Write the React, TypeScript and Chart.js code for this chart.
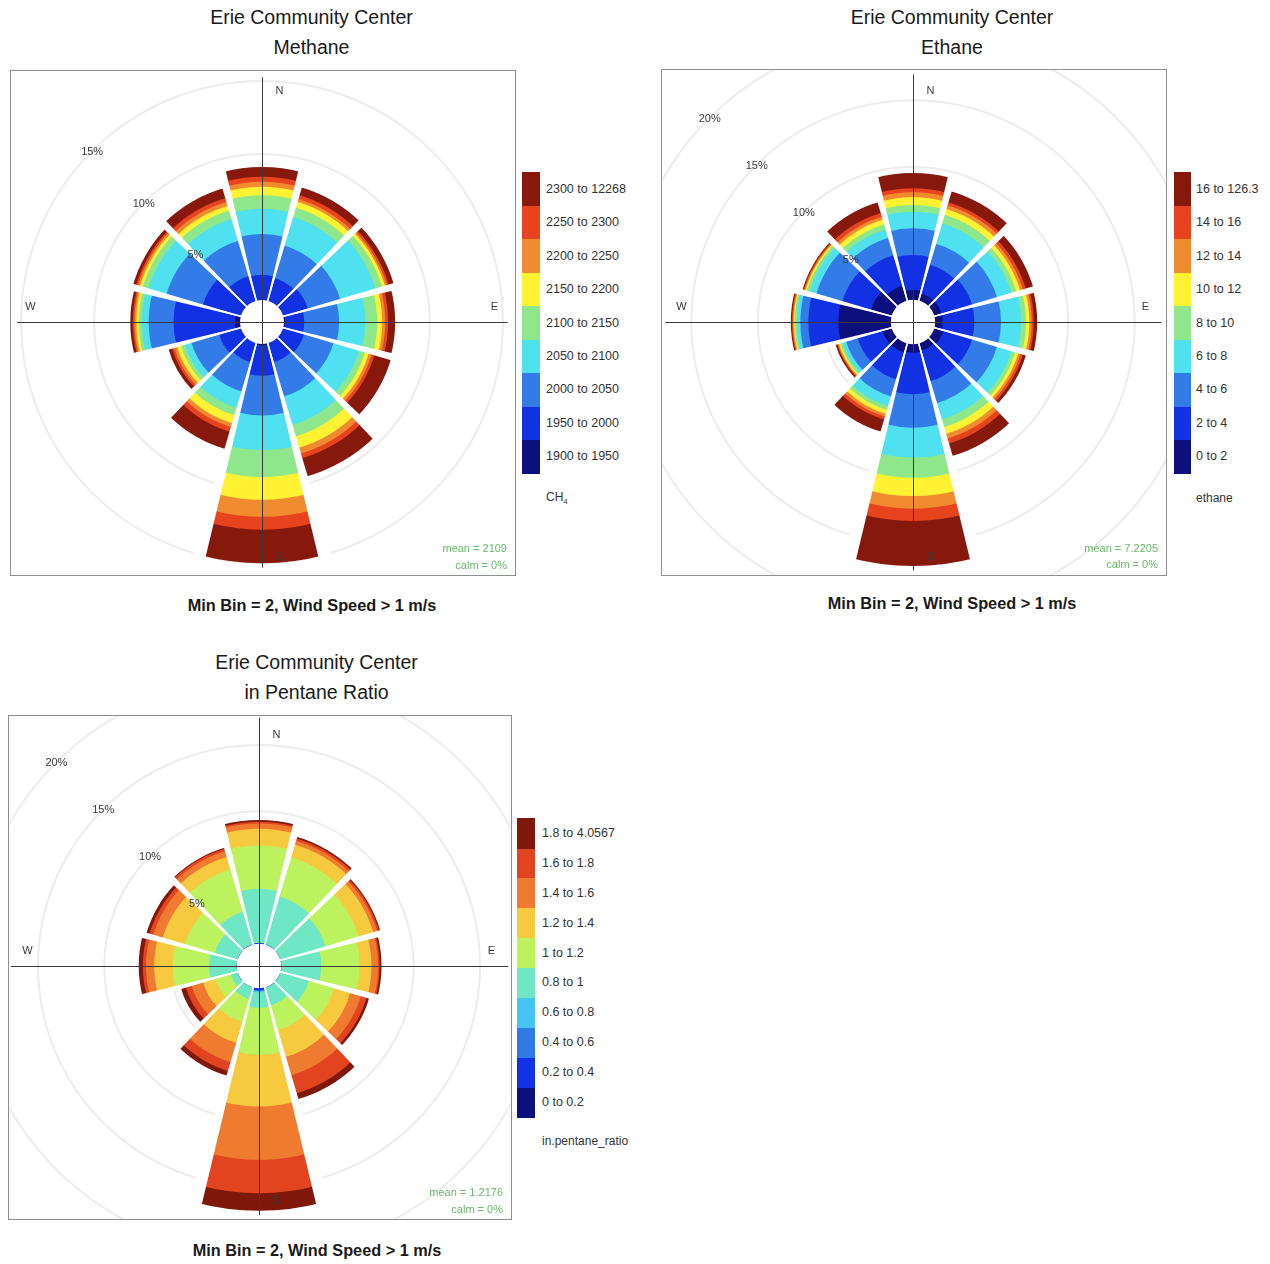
import React, { useEffect, useRef } from 'react';
import { Chart, registerables } from 'chart.js';

Chart.register(...registerables);

// ---------- shared ----------
const directions = ['N', 'NNE', 'ENE', 'E', 'ESE', 'SSE', 'S', 'SSW', 'WSW', 'W', 'WNW', 'NNW'];
const calmRing = [0, 0, 0, 0, 0, 0, 0, 0, 0, 0, 0, 0];

// ---------- Methane: frequency (%) per direction for each concentration bin ----------
const methane1900 = [0, 0, 0, 0.08, 0, 0, 0.1, 0, 0, 0.34, 0, 0];
const methane1950 = [1.73, 1.63, 1.77, 1.31, 1.5, 1.36, 2.08, 1.36, 1.56, 4.22, 2.72, 1.77];
const methane2000 = [2.79, 2.32, 2.31, 2.39, 2.11, 2.45, 2.72, 2.11, 1.98, 1.7, 2.59, 2.52];
const methane2050 = [1.74, 2.04, 2.52, 1.8, 1.83, 2.04, 2.38, 1.16, 0.47, 0.47, 1.29, 1.56];
const methane2100 = [0.92, 0.68, 0.47, 0.81, 0.41, 0.82, 1.84, 0.54, 0.28, 0.21, 0.41, 0.61];
const methane2150 = [0.58, 0.4, 0.21, 0.34, 0.27, 0.81, 1.56, 0.54, 0.27, 0.17, 0.2, 0.34];
const methane2200 = [0.34, 0.21, 0.13, 0.21, 0.21, 0.41, 1.16, 0.28, 0.2, 0.13, 0.14, 0.27];
const methane2250 = [0.34, 0.27, 0.14, 0.2, 0.2, 0.34, 0.88, 0.34, 0.17, 0.11, 0.13, 0.28];
const methane2300 = [0.68, 0.55, 0.34, 0.48, 1.16, 1.29, 2.3, 1.22, 0.24, 0.17, 0.21, 0.68];
const methaneLevels = ['1900 to 1950', '1950 to 2000', '2000 to 2050', '2050 to 2100', '2100 to 2150', '2150 to 2200', '2200 to 2250', '2250 to 2300', '2300 to 12268'];

// ---------- Ethane ----------
const ethane0 = [0.74, 0.56, 0.56, 0.56, 0.71, 0.56, 0.64, 0.71, 0.71, 3.95, 1.62, 1.17];
const ethane2 = [2.63, 2.26, 2.41, 2.39, 2.26, 2.41, 3.13, 2.11, 1.96, 2.25, 2.25, 2.4];
const ethane4 = [2.01, 1.65, 1.95, 2.0, 1.95, 1.73, 2.51, 1.35, 0.9, 0.6, 2.03, 1.35];
const ethane6 = [1.24, 1.58, 1.13, 1.51, 1.13, 1.28, 2.25, 0.75, 0.3, 0.27, 0.53, 0.68];
const ethane8 = [0.51, 0.68, 0.38, 0.37, 0.3, 0.6, 1.51, 0.31, 0.15, 0.15, 0.22, 0.38];
const ethane10 = [0.58, 0.45, 0.3, 0.25, 0.23, 0.53, 1.38, 0.3, 0.12, 0.07, 0.12, 0.37];
const ethane12 = [0.37, 0.3, 0.22, 0.18, 0.19, 0.37, 0.95, 0.22, 0.07, 0.08, 0.07, 0.23];
const ethane14 = [0.3, 0.23, 0.23, 0.15, 0.18, 0.38, 0.93, 0.23, 0.08, 0.07, 0.08, 0.3];
const ethane16 = [1.15, 0.86, 0.56, 0.26, 0.23, 0.97, 3.38, 0.94, 0.11, 0.08, 0.07, 0.83];
const ethaneLevels = ['0 to 2', '2 to 4', '4 to 6', '6 to 8', '8 to 10', '10 to 12', '12 to 14', '14 to 16', '16 to 126.3'];

// ---------- in-Pentane ratio ----------
const pentane00 = [0, 0, 0, 0, 0, 0, 0, 0, 0, 0, 0, 0];
const pentane02 = [0.05, 0.03, 0, 0, 0, 0, 0.15, 0, 0, 0, 0, 0.03];
const pentane04 = [0, 0, 0, 0, 0, 0, 0.05, 0, 0, 0, 0, 0];
const pentane06 = [0, 0, 0, 0, 0, 0.05, 0.1, 0, 0, 0, 0, 0];
const pentane08 = [4.1, 3.77, 3.55, 3.02, 2.26, 1.36, 1.18, 0.91, 0.53, 2.08, 1.81, 2.57];
const pentane10 = [3.27, 3.07, 2.61, 2.9, 1.97, 1.96, 3.55, 1.81, 1.21, 2.75, 2.34, 3.32];
const pentane12 = [1.26, 1.01, 1.16, 0.89, 1.28, 2.11, 3.9, 1.66, 0.98, 1.4, 1.74, 0.98];
const pentane14 = [0.4, 0.3, 0.3, 0.5, 0.83, 1.44, 4.03, 1.51, 0.9, 0.62, 0.75, 0.45];
const pentane16 = [0.13, 0.19, 0.15, 0.12, 0.45, 1.43, 2.51, 0.68, 0.46, 0.24, 0.3, 0.19];
const pentane18 = [0.13, 0.11, 0.08, 0.14, 0.19, 0.45, 1.32, 0.37, 0.37, 0.31, 0.23, 0.07];
const pentaneLevels = ['0 to 0.2', '0.2 to 0.4', '0.4 to 0.6', '0.6 to 0.8', '0.8 to 1', '1 to 1.2', '1.2 to 1.4', '1.4 to 1.6', '1.6 to 1.8', '1.8 to 4.0567'];

// ---------- colours (low -> high) ----------
const jet9 = ['#0c0f7c', '#1131e2', '#337be7', '#50e1f1', '#8ee78b', '#fff233', '#f08b30', '#e7431f', '#86190c'];
const jet10 = ['#0c0f7c', '#1133e4', '#2f7ae6', '#46c4f2', '#6fe6c4', '#bdf25f', '#f7c93f', '#ef7b30', '#e1441f', '#7e180b'];

const FONT = '"Liberation Sans", Arial, Helvetica, sans-serif';
const HALF = 360;
const GAP_DEG = 3; // each wedge covers 90% of its 30 degree sector

type Box = { left: number; top: number; width: number; height: number };

function Rose(props: {
  bands: number[][];
  colors: string[];
  pxPerPct: number;
  gridPct: number[];
  box: Box;
  cx: number;
  cy: number;
}) {
  const { bands, colors, pxPerPct, gridPct, box, cx, cy } = props;
  const ref = useRef<HTMLCanvasElement | null>(null);

  useEffect(() => {
    const canvas = ref.current;
    if (!canvas) return;
    const cum: number[][] = [];
    let run = directions.map(() => 0);
    bands.forEach((b) => {
      run = run.map((v, i) => v + b[i]);
      cum.push(run);
    });
    const totals = cum[cum.length - 1];
    const maxTotal = Math.max(...totals);
    const offset = 0.1 * maxTotal;
    const min = -offset;
    const max = min + HALF / pxPerPct;

    const datasets: any[] = [
      { label: 'calm', data: calmRing, backgroundColor: '#ffffff', borderWidth: 0 },
      ...cum.map((c, j) => ({ label: 'bin' + j, data: c, backgroundColor: colors[j], borderWidth: 0 })),
    ];

    const overlay = {
      id: 'roseOverlay',
      afterDatasetsDraw(chart: any) {
        const s = chart.scales.r;
        const ctx = chart.ctx as CanvasRenderingContext2D;
        const x0 = s.xCenter + 0.5;
        const y0 = s.yCenter + 0.5;
        const n = directions.length;
        const half = (GAP_DEG / 2) * (Math.PI / 180);
        ctx.save();
        // white gaps between direction wedges
        ctx.fillStyle = '#ffffff';
        ctx.strokeStyle = '#ffffff';
        ctx.lineWidth = 1.6;
        for (let i = 0; i < n; i++) {
          const reach = s.getDistanceFromCenterForValue(Math.max(totals[i], totals[(i + n - 1) % n])) + 3;
          const a = s.getPointPosition(i, reach, -half);
          const b = s.getPointPosition(i, reach, half);
          const m = s.getPointPosition(i, reach);
          ctx.beginPath();
          ctx.moveTo(s.xCenter, s.yCenter);
          ctx.lineTo(a.x, a.y);
          ctx.lineTo(b.x, b.y);
          ctx.closePath();
          ctx.fill();
          ctx.beginPath();
          ctx.moveTo(s.xCenter, s.yCenter);
          ctx.lineTo(m.x, m.y);
          ctx.stroke();
        }
        // axes
        const L = s.getDistanceFromCenterForValue(maxTotal) + 4;
        ctx.strokeStyle = '#3a3a3a';
        ctx.lineWidth = 1;
        ctx.beginPath();
        ctx.moveTo(x0 - L, y0);
        ctx.lineTo(x0 + L, y0);
        ctx.moveTo(x0, y0 - L);
        ctx.lineTo(x0, y0 + L);
        ctx.stroke();
        // labels
        ctx.fillStyle = '#3a3a3a';
        ctx.font = '11px ' + FONT;
        ctx.textAlign = 'center';
        ctx.textBaseline = 'middle';
        gridPct.forEach((v) => {
          const r = s.getDistanceFromCenterForValue(v);
          ctx.fillText(v + '%', x0 - r * Math.SQRT1_2, y0 - r * Math.SQRT1_2);
        });
        ctx.fillText('N', x0 + 17, y0 - 232);
        ctx.fillText('S', x0 + 17, y0 + 234);
        ctx.fillText('E', x0 + 232, y0 - 16);
        ctx.fillText('W', x0 - 232, y0 - 16);
        ctx.restore();
      },
    };

    const chart = new Chart(canvas, {
      type: 'polarArea',
      data: { labels: directions, datasets },
      options: {
        responsive: false,
        animation: false,
        events: [],
        layout: { padding: 0 },
        plugins: { legend: { display: false }, tooltip: { enabled: false } },
        elements: { arc: { borderWidth: 0 } },
        scales: {
          r: {
            type: 'radialLinear',
            min,
            max,
            startAngle: -15,
            ticks: { display: false },
            grid: { color: '#ececec', lineWidth: 2, circular: true },
            angleLines: { display: false },
            pointLabels: { display: false },
            afterBuildTicks: (scale: any) => {
              scale.ticks = gridPct.map((v) => ({ value: v }));
            },
          },
        },
      } as any,
      plugins: [overlay],
    });
    return () => chart.destroy();
  }, []);

  return (
    <>
      <div
        style={{
          position: 'absolute',
          left: box.left,
          top: box.top,
          width: box.width,
          height: box.height,
          overflow: 'hidden',
        }}
      >
        <canvas
          ref={ref}
          width={HALF * 2}
          height={HALF * 2}
          style={{ position: 'absolute', left: cx - HALF - box.left, top: cy - HALF - box.top }}
        />
      </div>
      <div
        style={{
          position: 'absolute',
          left: box.left,
          top: box.top,
          width: box.width,
          height: box.height,
          boxSizing: 'border-box',
          border: '1px solid #8f8f8f',
          pointerEvents: 'none',
        }}
      />
    </>
  );
}

function ColorBar(props: {
  colors: string[];
  levels: string[];
  left: number;
  top: number;
  width: number;
  height: number;
  labelLeft: number;
  unit: React.ReactNode;
  unitTop: number;
}) {
  const { colors, levels, left, top, width, height, labelLeft, unit, unitTop } = props;
  const n = colors.length;
  const h = height / n;
  return (
    <>
      {colors.map((c, j) => (
        <div
          key={'c' + j}
          style={{ position: 'absolute', left, top: top + height - (j + 1) * h, width, height: h + 0.6, background: c }}
        />
      ))}
      {levels.map((t, j) => (
        <div
          key={'l' + j}
          style={{
            position: 'absolute',
            left: labelLeft,
            top: top + height - (j + 0.5) * h - 8,
            height: 16,
            lineHeight: '16px',
            fontSize: 12.5,
            color: '#333',
            whiteSpace: 'nowrap',
          }}
        >
          {t}
        </div>
      ))}
      <div
        style={{
          position: 'absolute',
          left: labelLeft,
          top: unitTop - 8,
          height: 16,
          lineHeight: '16px',
          fontSize: 12,
          color: '#333',
          whiteSpace: 'nowrap',
        }}
      >
        {unit}
      </div>
    </>
  );
}

function CenterText(props: { x: number; y: number; text: string; size: number; bold?: boolean; color?: string }) {
  const { x, y, text, size, bold, color } = props;
  return (
    <div
      style={{
        position: 'absolute',
        left: x - 300,
        width: 600,
        top: y - size * 0.6,
        height: size * 1.2,
        lineHeight: size * 1.2 + 'px',
        fontSize: size,
        fontWeight: bold ? 700 : 400,
        textAlign: 'center',
        color: color || '#1a1a1a',
        whiteSpace: 'nowrap',
      }}
    >
      {text}
    </div>
  );
}

function RightText(props: { x: number; y: number; text: string }) {
  return (
    <div
      style={{
        position: 'absolute',
        left: props.x - 200,
        width: 200,
        top: props.y - 7,
        height: 14,
        lineHeight: '14px',
        fontSize: 11,
        textAlign: 'right',
        color: '#6ab86a',
        whiteSpace: 'nowrap',
      }}
    >
      {props.text}
    </div>
  );
}

export default function App() {
  const methaneBands = [methane1900, methane1950, methane2000, methane2050, methane2100, methane2150, methane2200, methane2250, methane2300];
  const ethaneBands = [ethane0, ethane2, ethane4, ethane6, ethane8, ethane10, ethane12, ethane14, ethane16];
  const pentaneBands = [pentane00, pentane02, pentane04, pentane06, pentane08, pentane10, pentane12, pentane14, pentane16, pentane18];
  const caption = 'Min Bin = 2, Wind Speed > 1 m/s';

  return (
    <div style={{ position: 'absolute', left: 0, top: 0, width: 1270, height: 1264, fontFamily: FONT, background: '#fff' }}>
      {/* Methane */}
      <CenterText x={311.5} y={18} text="Erie Community Center" size={19.5} />
      <CenterText x={311.5} y={48} text="Methane" size={19.5} />
      <Rose
        bands={methaneBands}
        colors={jet9}
        pxPerPct={14.6}
        gridPct={[5, 10, 15]}
        box={{ left: 10, top: 70, width: 506, height: 506 }}
        cx={262}
        cy={322}
      />
      <RightText x={507} y={548} text="mean = 2109" />
      <RightText x={507} y={565} text="calm = 0%" />
      <ColorBar
        colors={jet9}
        levels={methaneLevels}
        left={522}
        top={172}
        width={18}
        height={301}
        labelLeft={546}
        unit={<span>CH<sub style={{ fontSize: 8 }}>4</sub></span>}
        unitTop={497}
      />
      <CenterText x={312} y={606} text={caption} size={16.3} bold />

      {/* Ethane */}
      <CenterText x={952} y={18} text="Erie Community Center" size={19.5} />
      <CenterText x={952} y={48} text="Ethane" size={19.5} />
      <Rose
        bands={ethaneBands}
        colors={jet9}
        pxPerPct={13.3}
        gridPct={[5, 10, 15, 20]}
        box={{ left: 661, top: 69, width: 506, height: 507 }}
        cx={913}
        cy={322}
      />
      <RightText x={1158} y={548} text="mean = 7.2205" />
      <RightText x={1158} y={564} text="calm = 0%" />
      <ColorBar
        colors={jet9}
        levels={ethaneLevels}
        left={1174}
        top={172}
        width={17}
        height={301}
        labelLeft={1196}
        unit="ethane"
        unitTop={498}
      />
      <CenterText x={952} y={604} text={caption} size={16.3} bold />

      {/* in-Pentane ratio */}
      <CenterText x={316.5} y={663} text="Erie Community Center" size={19.5} />
      <CenterText x={316.5} y={693} text="in Pentane Ratio" size={19.5} />
      <Rose
        bands={pentaneBands}
        colors={jet10}
        pxPerPct={13.25}
        gridPct={[5, 10, 15, 20]}
        box={{ left: 8, top: 715, width: 504, height: 505 }}
        cx={259}
        cy={966}
      />
      <RightText x={503} y={1192} text="mean = 1.2176" />
      <RightText x={503} y={1209} text="calm = 0%" />
      <ColorBar
        colors={jet10}
        levels={pentaneLevels}
        left={517}
        top={818}
        width={18}
        height={299}
        labelLeft={542}
        unit="in.pentane_ratio"
        unitTop={1141}
      />
      <CenterText x={317} y={1251} text={caption} size={16.3} bold />
    </div>
  );
}
